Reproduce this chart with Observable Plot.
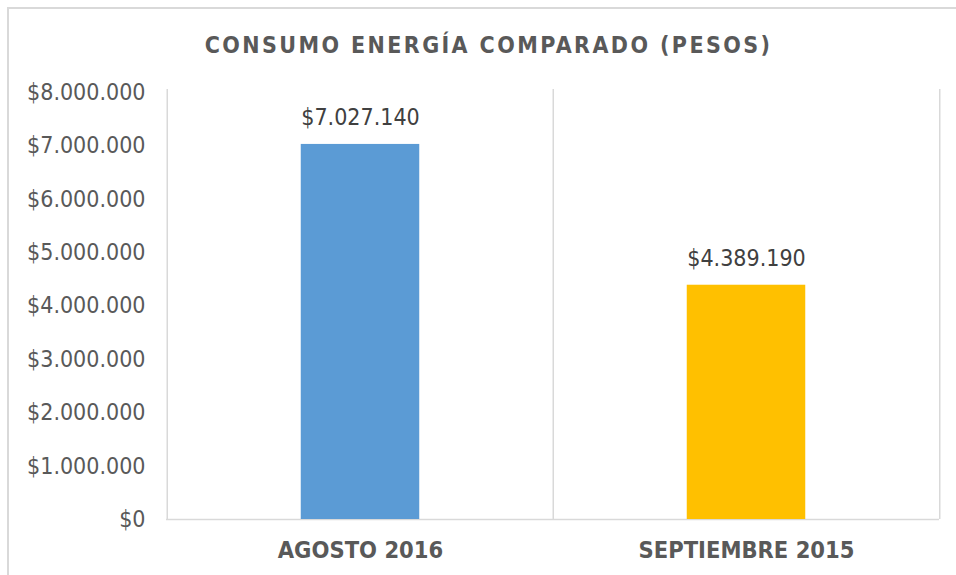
<!DOCTYPE html>
<html>
<head>
<meta charset="utf-8">
<script src="https://cdn.jsdelivr.net/npm/d3@7"></script>
<script src="https://cdn.jsdelivr.net/npm/@observablehq/plot@0.6"></script>
<style>
  html, body { margin: 0; padding: 0; background: #fff; overflow: hidden; }
  #wrap { position: relative; width: 956px; height: 575px; }
  #border { position: absolute; left: 7px; top: 7px; width: 1200px; height: 800px;
            border: 2px solid #d9d9d9; pointer-events: none; box-sizing: border-box; }
  svg text { font-family: "DejaVu Sans Condensed", "DejaVu Sans", sans-serif; }
  .chart-title text { letter-spacing: 2.4px; }
</style>
</head>
<body>
<div id="wrap"><div id="border"></div></div>
<script>
const title = "CONSUMO ENERGÍA COMPARADO (PESOS)";
const categories = ["AGOSTO 2016", "SEPTIEMBRE 2015"];
const values = [7027140, 4389190];
const colors = ["#5B9BD5", "#FFC000"];
const yTicks = [0, 1000000, 2000000, 3000000, 4000000, 5000000, 6000000, 7000000, 8000000];

const data = categories.map((c, i) => ({cat: c, value: values[i], color: colors[i]}));

const locale = d3.formatLocale({decimal: ",", thousands: ".", grouping: [3], currency: ["$", ""]});
const fmt = locale.format("$,.0f");

const W = 956, H = 575;
const mL = 166, mR = 17, mT = 92, mB = 56;
const band = (W - mL - mR) / categories.length;
const barW = 119;
const inset = (band - barW) / 2;
const titleCenter = 488;
const titleDx = titleCenter - (mL + (W - mL - mR) / 2);

const chart = Plot.plot({
  width: W,
  height: H,
  marginLeft: mL,
  marginRight: mR,
  marginTop: mT,
  marginBottom: mB,
  style: {fontFamily: "'DejaVu Sans Condensed', 'DejaVu Sans', sans-serif", background: "transparent", overflow: "visible"},
  x: {domain: categories, padding: 0, label: null},
  y: {domain: [0, 8000000], label: null},
  color: {type: "identity"},
  marks: [
    Plot.ruleX(categories, {x: d => d, dx: -band / 2, y1: 8000000, y2: 0, insetTop: -3, stroke: "#d9d9d9", strokeWidth: 1.5}),
    Plot.ruleX([categories[categories.length - 1]], {x: d => d, dx: band / 2, y1: 8000000, y2: 0, insetTop: -3, stroke: "#d9d9d9", strokeWidth: 1.5}),
    Plot.ruleY([0], {stroke: "#d9d9d9", strokeWidth: 1.5}),
    Plot.barY(data, {x: "cat", y: "value", fill: "color", insetLeft: inset, insetRight: inset}),
    Plot.text(data, {x: "cat", y: "value", text: d => fmt(d.value), dy: -27, lineAnchor: "middle",
      fill: "#404040", fontSize: 23}),
    Plot.axisY({ticks: yTicks, tickFormat: fmt, tickSize: 0, tickPadding: 21, fontSize: 23, fill: "#595959"}),
    Plot.axisX({tickSize: 0, tickPadding: 22, fontSize: 23.5, fontWeight: "bold", fill: "#595959"}),
    Plot.text([title], {frameAnchor: "top", dx: titleDx, dy: -47, lineAnchor: "middle", fontSize: 23, fontWeight: "bold",
      fill: "#595959", text: d => d, className: "chart-title"})
  ]
});
document.getElementById("wrap").prepend(chart);
</script>
</body>
</html>
